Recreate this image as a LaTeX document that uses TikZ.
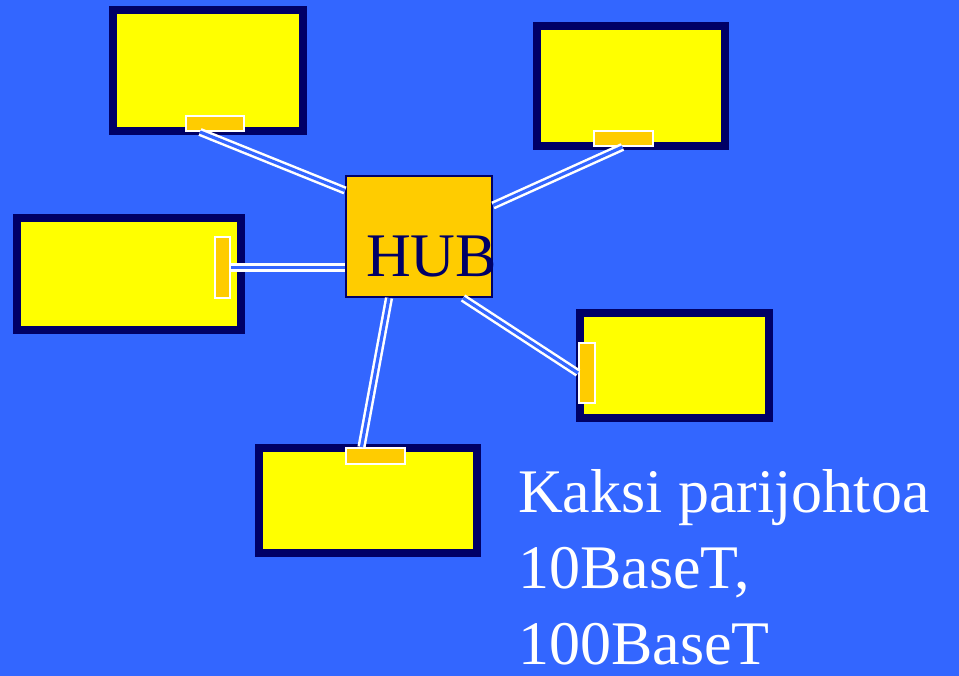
\documentclass[tikz,border=0pt]{standalone}
\usepackage{fontspec}
\setmainfont{Liberation Serif}
\usepackage{xcolor}
\definecolor{bg}{HTML}{3366FF}
\definecolor{navy}{HTML}{000066}
\definecolor{screen}{HTML}{FFFF00}
\definecolor{card}{HTML}{FFCC00}
\usetikzlibrary{calc}

\tikzset{
pcbox/.style={draw=navy, fill=screen, line width=8pt, inner sep=0pt},
nic/.style={draw=white, fill=card, line width=2pt, inner sep=0pt},
hubbox/.style={draw=navy, fill=card, line width=2pt, inner sep=0pt, minimum width=146pt, minimum height=121pt},
cable/.style={draw=white, double=bg, double distance=3.2pt, line width=2.5pt},
big/.style={font=\fontsize{62}{76}\selectfont, inner sep=0pt}
}

\begin{document}
\begin{tikzpicture}[x=1pt, y=-1pt]
\fill[bg] (0,0) rectangle (959,676);
\useasboundingbox (0,0) rectangle (959,676);
% workstations
\foreach \n/\x/\y/\w/\h in {1/208/70.5/190/121, 2/631/86/188/120, 3/129/274/224/112, 4/674.5/365.5/189/105, 5/368/500.5/218/105}{
\node[pcbox, minimum width=\w pt, minimum height=\h pt] (pc\n) at (\x,\y) {};
}
\node[hubbox] (hub) at (419,236.5) {};
\node[big, text=navy, anchor=base west] (hubtext) at (366,277) {HUB};
% network cards
\foreach \n/\x/\y/\w/\h in {1/215/123.5/58/15, 2/623.5/138.5/59/15, 3/222.5/267.5/15/61, 4/587/373/16/60, 5/375.5/456/59/16}{
\node[nic, minimum width=\w pt, minimum height=\h pt] (nic\n) at (\x,\y) {};
}
% twisted pairs
\draw[cable] ([xshift=-15pt]nic1.south) -- ([yshift=46pt]hub.west);
\draw[cable] ([xshift=-1pt]nic2.south) -- ([yshift=31pt]hub.east);
\draw[cable] (nic3.east) -- (nic3.east -| hub.west);
\draw[cable] ([xshift=44pt]hub.south) -- (nic4.west);
\draw[cable] ([xshift=-30pt]hub.south) -- ([xshift=-14pt]nic5.north);
\node[big, text=white, align=left, anchor=base west] (note) at (518,664) {Kaksi parijohtoa\\10BaseT,\\100BaseT};
\end{tikzpicture}
\end{document}
